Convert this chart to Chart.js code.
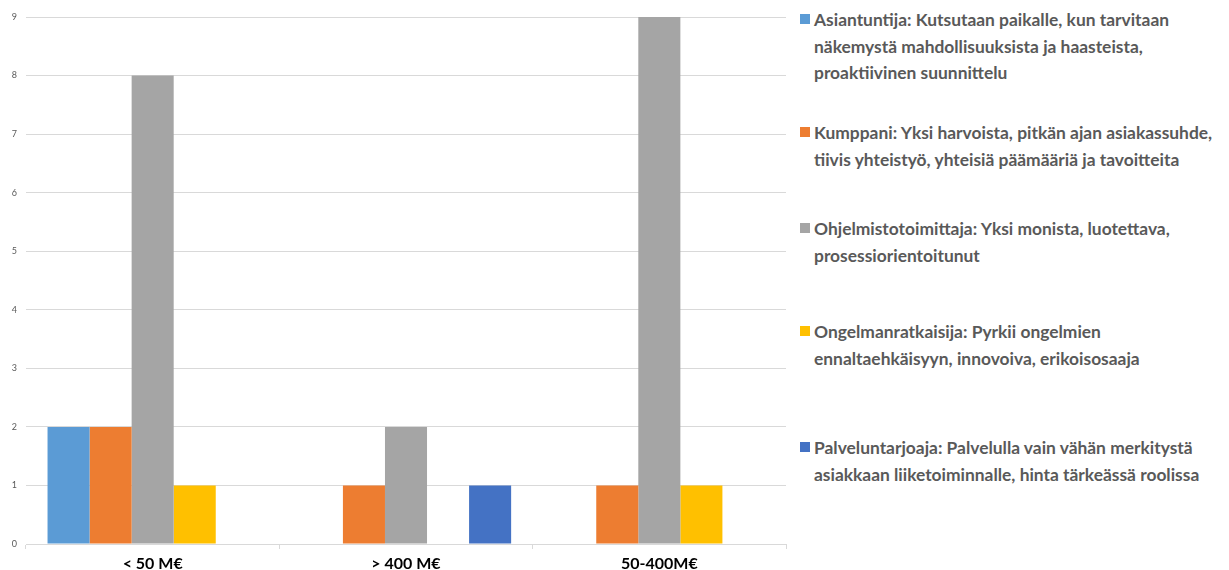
<!DOCTYPE html>
<html>
<head>
<meta charset="utf-8">
<script src="https://cdn.jsdelivr.net/npm/chart.js@4"></script>
<style>
  html, body { margin: 0; padding: 0; background: #fff; }
  body { width: 1229px; height: 570px; position: relative; overflow: hidden; }
  #chart { position: absolute; left: 0; top: 0; }
  #legend { position: absolute; left: 800px; top: 0; font-family: Lato, "Open Sans", sans-serif; font-weight: 700; font-size: 17.4px; color: #595959; }
  .item { position: absolute; left: 0; white-space: nowrap; line-height: 26.5px; }
  .box { position: absolute; left: 0; top: 7px; width: 10px; height: 10px; }
  .txt { position: absolute; left: 14px; top: 0; }
</style>
</head>
<body>
<canvas id="chart" width="790" height="570"></canvas>
<div id="legend"></div>
<script>
const categories = ['< 50 M€', '> 400 M€', '50-400M€'];

const asiantuntija = [2, 0, 0];
const kumppani = [2, 1, 1];
const ohjelmistotoimittaja = [8, 2, 9];
const ongelmanratkaisija = [1, 0, 1];
const palveluntarjoaja = [0, 1, 0];

// legend text, one array entry per printed line
const seriesLines = [
  ['Asiantuntija: Kutsutaan paikalle, kun tarvitaan', 'näkemystä mahdollisuuksista ja haasteista,', 'proaktiivinen suunnittelu'],
  ['Kumppani: Yksi harvoista, pitkän ajan asiakassuhde,', 'tiivis yhteistyö, yhteisiä päämääriä ja tavoitteita'],
  ['Ohjelmistotoimittaja: Yksi monista, luotettava,', 'prosessiorientoitunut'],
  ['Ongelmanratkaisija: Pyrkii ongelmien', 'ennaltaehkäisyyn, innovoiva, erikoisosaaja'],
  ['Palveluntarjoaja: Palvelulla vain vähän merkitystä', 'asiakkaan liiketoiminnalle, hinta tärkeässä roolissa']
];
const seriesValues = [asiantuntija, kumppani, ohjelmistotoimittaja, ongelmanratkaisija, palveluntarjoaja];
const colors = ['#5B9BD5', '#ED7D31', '#A5A5A5', '#FFC000', '#4472C4'];
const legendTops = [7, 120, 216, 319, 435];

const datasets = seriesValues.map(function (vals, i) {
  return {
    label: seriesLines[i].join(' '),
    data: vals,
    backgroundColor: colors[i],
    borderWidth: 0,
    categoryPercentage: 0.83,
    barPercentage: 1.0
  };
});

new Chart(document.getElementById('chart'), {
  type: 'bar',
  data: { labels: categories, datasets: datasets },
  options: {
    responsive: false,
    animation: false,
    layout: { padding: { top: 17, right: 4, left: 0, bottom: 0 } },
    plugins: { legend: { display: false }, tooltip: { enabled: false } },
    scales: {
      x: {
        grid: { display: true, drawOnChartArea: false, offset: true, color: '#d9d9d9', tickLength: 5 },
        border: { display: true, color: '#d9d9d9' },
        ticks: { color: '#000', font: { family: 'Lato, "Open Sans", sans-serif', size: 16, weight: 'bold' }, padding: 5 },
        afterFit: function (s) { s.height = 26; }
      },
      y: {
        min: 0, max: 9,
        grid: { color: '#d9d9d9', drawTicks: false },
        border: { display: false },
        ticks: { stepSize: 1, color: '#595959', font: { family: 'Lato, sans-serif', size: 9 }, padding: 9 },
        afterFit: function (s) { s.width = 26; }
      }
    }
  }
});

// custom legend on the right
const legend = document.getElementById('legend');
seriesLines.forEach(function (lines, i) {
  const item = document.createElement('div');
  item.className = 'item';
  item.style.top = legendTops[i] + 'px';
  const box = document.createElement('div');
  box.className = 'box';
  box.style.background = colors[i];
  const txt = document.createElement('div');
  txt.className = 'txt';
  txt.innerHTML = lines.map(function (l) { return l.replace(/&/g, '&amp;').replace(/</g, '&lt;'); }).join('<br>');
  item.appendChild(box);
  item.appendChild(txt);
  legend.appendChild(item);
});
</script>
</body>
</html>
